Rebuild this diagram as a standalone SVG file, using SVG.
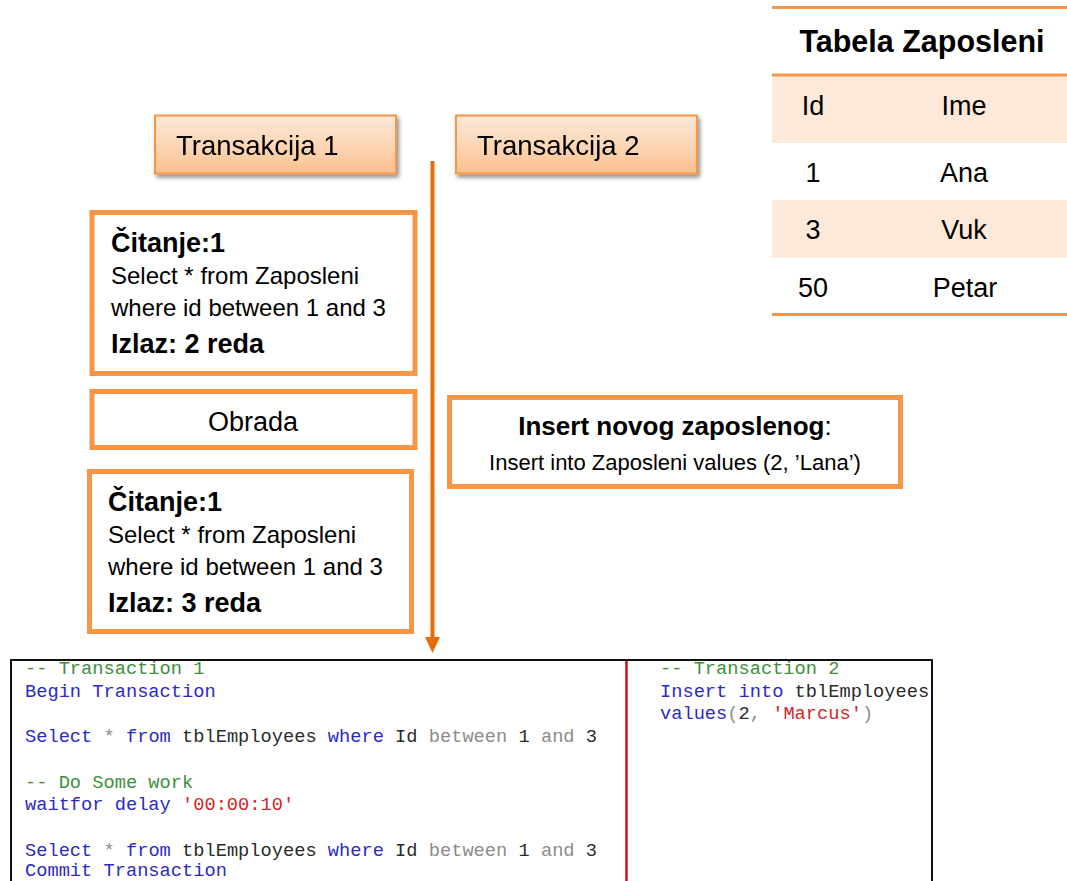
<svg xmlns="http://www.w3.org/2000/svg" width="1067" height="881" viewBox="0 0 1067 881">
  <defs>
    <linearGradient id="hdrFill" x1="0" y1="0" x2="0" y2="1">
      <stop offset="0" stop-color="#fde8d7"/>
      <stop offset="0.55" stop-color="#fcd5b4"/>
      <stop offset="1" stop-color="#fbbf8d"/>
    </linearGradient>
    <filter id="shadow" x="-10%" y="-20%" width="125%" height="150%">
      <feGaussianBlur in="SourceAlpha" stdDeviation="2.2"/>
      <feOffset dx="2" dy="3" result="b"/>
      <feComponentTransfer><feFuncA type="linear" slope="0.45"/></feComponentTransfer>
      <feMerge><feMergeNode/><feMergeNode in="SourceGraphic"/></feMerge>
    </filter>
    <marker id="arrowHead" viewBox="0 0 16 16" refX="8" refY="0" markerWidth="16" markerHeight="16" orient="0" markerUnits="userSpaceOnUse">
      <path d="M0.5,0 L15.5,0 L8,16 z" fill="#e46c0a"/>
    </marker>
    <clipPath id="codeClip">
      <rect x="11" y="661" width="920" height="220"/>
    </clipPath>
    <style>
      .hdr { fill: url(#hdrFill); stroke: #f79646; stroke-width: 2; }
      .step { fill: #ffffff; stroke: #f79646; stroke-width: 5; }
      .t { font-family: "Liberation Sans", Arial, sans-serif; fill: #000; }
      .b { font-weight: bold; }
      .tblLine { stroke: #f79646; stroke-width: 3; }
      .band { fill: #fde9d9; }
      .code { font-family: "Liberation Mono", "Courier New", monospace; font-size: 18.7px; }
      .cm { fill: #3d8f3d; }
      .kw { fill: #2b2bc4; }
      .gy { fill: #8c8c8c; }
      .bk { fill: #2a2a2a; }
      .st { fill: #d02828; }
    </style>
  </defs>

  <rect width="1067" height="881" fill="#ffffff"/>

  <!-- Employee table -->
  <g id="tabela">
    <rect class="band" x="772" y="75" width="295" height="68"/>
    <rect class="band" x="772" y="200" width="295" height="58"/>
    <line class="tblLine" x1="772" y1="7.5" x2="1067" y2="7.5"/>
    <line class="tblLine" x1="772" y1="75" x2="1067" y2="75"/>
    <line class="tblLine" x1="772" y1="314.5" x2="1067" y2="314.5"/>
    <text class="t b" x="922" y="52" font-size="30.5" text-anchor="middle">Tabela Zaposleni</text>
    <g class="t" font-size="27" text-anchor="middle">
      <text x="813" y="115">Id</text>
      <text x="964" y="115">Ime</text>
      <text x="813" y="182">1</text>
      <text x="964" y="182">Ana</text>
      <text x="813" y="239">3</text>
      <text x="964" y="239">Vuk</text>
      <text x="813" y="297">50</text>
      <text x="965" y="297">Petar</text>
    </g>
  </g>

  <!-- Transaction headers -->
  <g id="transakcija1" filter="url(#shadow)">
    <rect class="hdr" x="155" y="115.5" width="241" height="58"/>
    <text class="t" x="176" y="155" font-size="27.5">Transakcija 1</text>
  </g>
  <g id="transakcija2" filter="url(#shadow)">
    <rect class="hdr" x="456" y="115.5" width="241" height="58"/>
    <text class="t" x="477" y="155" font-size="27.5">Transakcija 2</text>
  </g>

  <!-- Timeline -->
  <g id="connectors">
    <line x1="432.5" y1="161" x2="432.5" y2="637" stroke="#e46c0a" stroke-width="4" marker-end="url(#arrowHead)"/>
  </g>

  <!-- Transaction 1 steps -->
  <g id="citanje1">
    <rect class="step" x="92" y="212.5" width="323" height="161"/>
    <text class="t b" x="111" y="252" font-size="27">Čitanje:1</text>
    <text class="t" x="111" y="284" font-size="24">Select * from Zaposleni</text>
    <text class="t" x="111" y="316" font-size="24">where id between 1 and 3</text>
    <text class="t b" x="111" y="353" font-size="27">Izlaz: 2 reda</text>
  </g>

  <g id="obrada">
    <rect class="step" x="92" y="391.5" width="323" height="56"/>
    <text class="t" x="253" y="431" font-size="27" text-anchor="middle">Obrada</text>
  </g>

  <g id="citanje2">
    <rect class="step" x="89.5" y="471.5" width="322" height="160"/>
    <text class="t b" x="108" y="511" font-size="27">Čitanje:1</text>
    <text class="t" x="108" y="543" font-size="24">Select * from Zaposleni</text>
    <text class="t" x="108" y="575" font-size="24">where id between 1 and 3</text>
    <text class="t b" x="108" y="612" font-size="27">Izlaz: 3 reda</text>
  </g>

  <!-- Transaction 2 step -->
  <g id="insert">
    <rect class="step" x="449.5" y="397.5" width="451" height="89"/>
    <text class="t" x="675" y="435" font-size="26" text-anchor="middle"><tspan class="b">Insert novog zaposlenog</tspan>:</text>
    <text class="t" x="675" y="470" font-size="22" text-anchor="middle">Insert into Zaposleni values (2, ’Lana’)</text>
  </g>

  <!-- SQL listing -->
  <g id="kod">
    <rect x="11" y="660" width="921" height="230" fill="#ffffff" stroke="#111" stroke-width="2"/>
    <line x1="626.5" y1="661" x2="626.5" y2="881" stroke="#cc1111" stroke-width="2.5"/>
    <g class="code" clip-path="url(#codeClip)" xml:space="preserve">
      <text x="25" y="674"><tspan class="cm">-- Transaction 1</tspan></text>
      <text x="25" y="697"><tspan class="kw">Begin Transaction</tspan></text>
      <text x="25" y="742"><tspan class="kw">Select</tspan><tspan class="gy"> * </tspan><tspan class="kw">from</tspan><tspan class="bk"> tblEmployees </tspan><tspan class="kw">where</tspan><tspan class="bk"> Id </tspan><tspan class="gy">between</tspan><tspan class="bk"> 1 </tspan><tspan class="gy">and</tspan><tspan class="bk"> 3</tspan></text>
      <text x="25" y="788"><tspan class="cm">-- Do Some work</tspan></text>
      <text x="25" y="810"><tspan class="kw">waitfor delay </tspan><tspan class="st">'00:00:10'</tspan></text>
      <text x="25" y="856"><tspan class="kw">Select</tspan><tspan class="gy"> * </tspan><tspan class="kw">from</tspan><tspan class="bk"> tblEmployees </tspan><tspan class="kw">where</tspan><tspan class="bk"> Id </tspan><tspan class="gy">between</tspan><tspan class="bk"> 1 </tspan><tspan class="gy">and</tspan><tspan class="bk"> 3</tspan></text>
      <text x="25" y="876"><tspan class="kw">Commit Transaction</tspan></text>
      <text x="660" y="674"><tspan class="cm">-- Transaction 2</tspan></text>
      <text x="660" y="697"><tspan class="kw">Insert into </tspan><tspan class="bk">tblEmployees</tspan></text>
      <text x="660" y="719"><tspan class="kw">values</tspan><tspan class="gy">(</tspan><tspan class="bk">2</tspan><tspan class="gy">, </tspan><tspan class="st">'Marcus'</tspan><tspan class="gy">)</tspan></text>
    </g>
  </g>
</svg>
